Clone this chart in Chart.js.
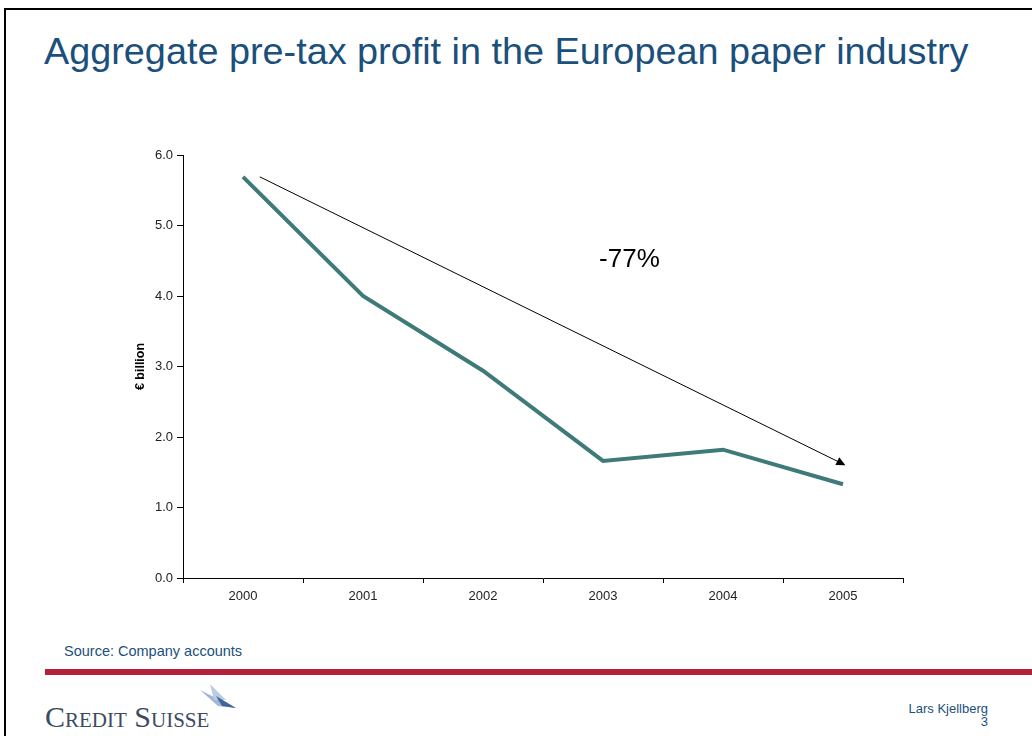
<!DOCTYPE html>
<html>
<head>
<meta charset="utf-8">
<script src="https://cdn.jsdelivr.net/npm/chart.js@4.4.1/dist/chart.umd.min.js"></script>
<style>
    html, body { margin: 0; padding: 0; background: #fff; }
    body { width: 1032px; height: 736px; position: relative; overflow: hidden; font-family: "Liberation Sans", Arial, sans-serif; }
    .frame { position: absolute; left: 4px; top: 8px; width: 1040px; height: 740px; border-left: 2px solid #000; border-top: 2px solid #000; }
    .title { position: absolute; left: 44px; top: 30px; font-size: 37.8px; color: #1b4f7c; white-space: nowrap; }
    .chart-box { position: absolute; left: 120px; top: 140px; width: 810px; height: 480px; }
    .source { position: absolute; left: 64px; top: 643px; font-size: 14.5px; color: #1b4f7c; }
    .redline { position: absolute; left: 45px; top: 669px; width: 990px; height: 6px; background: #b3203b; }
    .logo { position: absolute; left: 45px; top: 700px; font-family: "Liberation Serif", "Times New Roman", serif; font-size: 30px; font-variant: small-caps; color: #3c4b62; white-space: nowrap; }
    .sail { position: absolute; left: 196px; top: 684px; }
    .author { position: absolute; right: 44px; top: 702px; font-size: 13px; color: #1b4f7c; text-align: right; line-height: 13px; }
</style>
</head>
<body>
<div class="frame"></div>
<div class="title">Aggregate pre-tax profit in the European paper industry</div>
<div class="chart-box"><canvas id="profitChart" width="810" height="480"></canvas></div>
<div class="source">Source: Company accounts</div>
<div class="redline"></div>
<svg class="sail" width="44" height="32" viewBox="0 0 44 32">
    <path d="M4 6 L40 24 L22 22 Z" fill="#9fb8d6"/>
    <path d="M14 0 L30 16 L18 16 Z" fill="#b9cce2"/>
    <path d="M20 12 L40 24 L26 22 Z" fill="#3f6699"/>
</svg>
<div class="logo">Credit Suisse</div>
<div class="author">Lars Kjellberg<br>3</div>

<script>
(function() {
    'use strict';

    // Chart data
    const years = ['2000', '2001', '2002', '2003', '2004', '2005'];
    const profit = [5.69, 4.0, 2.94, 1.66, 1.82, 1.33];

    // Trend arrow: [category index, value]
    const arrowFrom = [0.14, 5.69];
    const arrowTo = [5.02, 1.6];
    const changeLabel = '-77%';
    const changeLabelAt = [3.22, 4.51];

    const axisFont = { family: '"Liberation Sans", Arial, sans-serif', size: 13 };

    /**
     * Draws the trend arrow and the percentage label in data space
     */
    const trendArrow = {
        id: 'trendArrow',
        afterDatasetsDraw: function(chart) {
            const ctx = chart.ctx;
            const x = chart.scales.x;
            const y = chart.scales.y;
            const x1 = x.getPixelForValue(arrowFrom[0]);
            const y1 = y.getPixelForValue(arrowFrom[1]);
            const x2 = x.getPixelForValue(arrowTo[0]);
            const y2 = y.getPixelForValue(arrowTo[1]);
            const angle = Math.atan2(y2 - y1, x2 - x1);
            const head = 10;

            ctx.save();
            ctx.strokeStyle = '#000';
            ctx.fillStyle = '#000';
            ctx.lineWidth = 1;
            ctx.beginPath();
            ctx.moveTo(x1, y1);
            ctx.lineTo(x2 - Math.cos(angle) * head * 0.8, y2 - Math.sin(angle) * head * 0.8);
            ctx.stroke();

            ctx.beginPath();
            ctx.moveTo(x2, y2);
            ctx.lineTo(x2 - head * Math.cos(angle - 0.45), y2 - head * Math.sin(angle - 0.45));
            ctx.lineTo(x2 - head * Math.cos(angle + 0.45), y2 - head * Math.sin(angle + 0.45));
            ctx.closePath();
            ctx.fill();

            ctx.font = '26px "Liberation Sans", Arial, sans-serif';
            ctx.textAlign = 'center';
            ctx.textBaseline = 'middle';
            ctx.fillText(changeLabel, x.getPixelForValue(changeLabelAt[0]), y.getPixelForValue(changeLabelAt[1]));
            ctx.restore();
        }
    };

    const ctx = document.getElementById('profitChart').getContext('2d');
    new Chart(ctx, {
        type: 'line',
        data: {
            labels: years,
            datasets: [{
                label: 'Pre-tax profit',
                data: profit,
                borderColor: '#3e7b78',
                borderWidth: 4,
                pointRadius: 0,
                tension: 0,
                fill: false
            }]
        },
        options: {
            responsive: false,
            animation: false,
            layout: {
                padding: { top: 15, right: 27, left: 0, bottom: 0 }
            },
            plugins: {
                legend: { display: false },
                tooltip: { enabled: false }
            },
            scales: {
                x: {
                    offset: true,
                    grid: {
                        offset: true,
                        drawOnChartArea: false,
                        drawTicks: true,
                        tickLength: 5,
                        color: '#000'
                    },
                    border: { color: '#000', width: 1 },
                    ticks: {
                        color: '#222',
                        font: axisFont,
                        padding: 6,
                        maxRotation: 0
                    },
                    afterFit: function(scale) {
                        scale.height = 42;
                    }
                },
                y: {
                    min: 0,
                    max: 6,
                    grid: {
                        drawOnChartArea: false,
                        drawTicks: true,
                        tickLength: 6,
                        color: '#000'
                    },
                    border: { color: '#000', width: 1 },
                    ticks: {
                        stepSize: 1,
                        color: '#222',
                        font: axisFont,
                        padding: 4,
                        callback: function(value) {
                            return value.toFixed(1);
                        }
                    },
                    title: {
                        display: true,
                        text: '€ billion',
                        color: '#000',
                        font: { family: axisFont.family, size: 12.5, weight: 'bold' },
                        padding: { top: 13, bottom: 0 }
                    },
                    afterFit: function(scale) {
                        scale.width = 63;
                    }
                }
            }
        },
        plugins: [trendArrow]
    });
})();
</script>
</body>
</html>
